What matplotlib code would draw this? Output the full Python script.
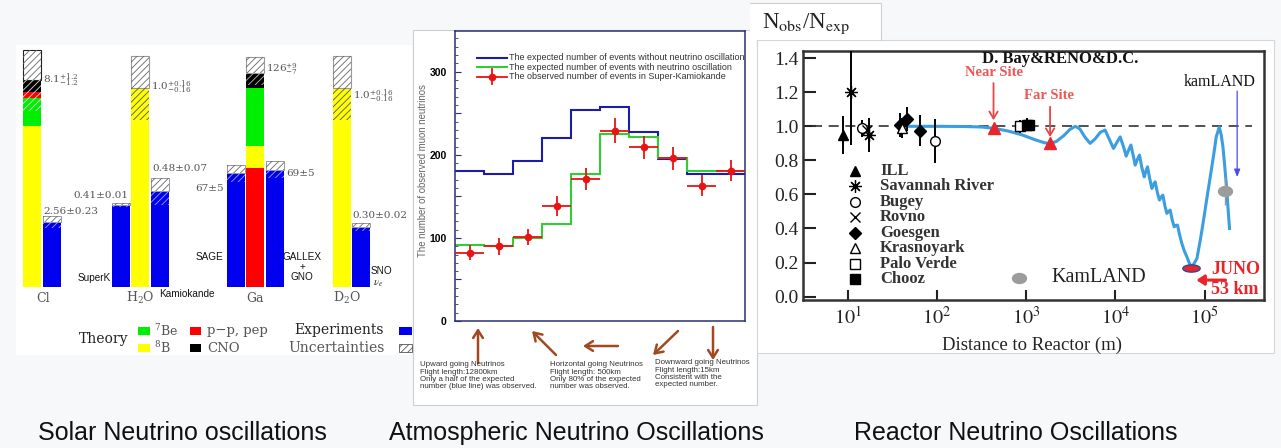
import numpy as np
import matplotlib.pyplot as plt
from matplotlib.patches import Rectangle
from matplotlib.path import Path
import matplotlib.ticker as mticker

plt.rcParams['mathtext.fontset'] = 'stix'
plt.rcParams['hatch.linewidth'] = 0.6

W, H = 1281, 448

# ---------------- solar neutrinos (left) ----------------
solar_targets = ['Cl', 'H$_2$O', 'Ga', 'D$_2$O']
flux_8B = [6.3, 1.0, 13.0, 1.0]
flux_7Be = [1.1, 0.0, 34.0, 0.0]
flux_pp = [0.25, 0.0, 70.0, 0.0]
flux_cno = [0.45, 0.0, 9.0, 0.0]
theory_total = [8.1, 1.0, 126.0, 1.0]
theory_err_up = [1.2, 0.16, 9.0, 0.16]
theory_err_dn = [1.2, 0.16, 7.0, 0.16]
theory_labels = [r'$8.1^{+1.2}_{-1.2}$', r'$1.0^{+0.16}_{-0.16}$',
                 r'$126^{+9}_{-7}$', r'$1.0^{+0.16}_{-0.16}$']

exp_names = ['', 'SuperK', 'Kamiokande', 'SAGE', 'GALLEX\n+\nGNO', 'SNO']
exp_target = [0, 1, 1, 2, 2, 3]
exp_value = [2.56, 0.41, 0.48, 67.0, 69.0, 0.30]
exp_err = [0.23, 0.01, 0.07, 5.0, 5.0, 0.02]
exp_labels = ['2.56±0.23', '0.41±0.01', '0.48±0.07', '67±5', '69±5', '0.30±0.02']

# ---------------- atmospheric neutrinos (middle) ----------------
zenith_edges = [-1.0, -0.8, -0.6, -0.4, -0.2, 0.0, 0.2, 0.4, 0.6, 0.8, 1.0]
expected_no_osc = [181, 177, 193, 220, 254, 257, 228, 195, 177, 177]
expected_osc = [92, 90, 100, 117, 177, 225, 221, 196, 181, 181]
observed = [82, 90, 101, 138, 171, 229, 209, 196, 163, 181]
observed_err = [9, 10, 10, 12, 13, 15, 14, 14, 13, 13]

# ---------------- reactor neutrinos (right) ----------------
curve_log10_m = [1.69, 2.00, 2.30, 2.50, 2.64, 2.80, 2.95, 3.10, 3.20, 3.27,
                 3.34, 3.42, 3.49, 3.55, 3.60, 3.66, 3.716, 3.77, 3.83, 3.884,
                 3.93, 3.978, 4.015, 4.053, 4.09, 4.12, 4.147, 4.173, 4.20, 4.221,
                 4.245, 4.269, 4.295, 4.322, 4.34, 4.359, 4.385, 4.408, 4.427, 4.445,
                 4.47, 4.493, 4.512, 4.531, 4.555, 4.576, 4.595, 4.613, 4.636, 4.658,
                 4.677, 4.695, 4.72, 4.744, 4.77, 4.80, 4.825, 4.845, 4.87, 4.913,
                 4.95, 4.987, 5.025, 5.062, 5.10, 5.129, 5.163, 5.185, 5.204, 5.222,
                 5.241, 5.26, 5.278]
curve_ratio = [1.000, 1.000, 0.999, 0.996, 0.988, 0.972, 0.950, 0.921, 0.904, 0.898,
               0.912, 0.945, 0.982, 1.000, 0.985, 0.935, 0.900, 0.925, 0.965, 0.978,
               0.925, 0.870, 0.905, 0.938, 0.880, 0.825, 0.860, 0.890, 0.825, 0.772,
               0.805, 0.831, 0.760, 0.703, 0.735, 0.762, 0.690, 0.635, 0.658, 0.674,
               0.610, 0.567, 0.585, 0.596, 0.530, 0.489, 0.500, 0.508, 0.450, 0.410,
               0.418, 0.420, 0.360, 0.312, 0.270, 0.234, 0.200, 0.180, 0.185, 0.224,
               0.330, 0.449, 0.580, 0.703, 0.830, 0.938, 0.995, 0.950, 0.880, 0.780,
               0.665, 0.530, 0.400]

reactor_names = ['ILL', 'Savannah River', 'Bugey', 'Rovno', 'Goesgen',
                 'Krasnoyark', 'Palo Verde', 'Chooz']
reactor_dist = [[8.9], [11.0, 17.5], [14.5, 95.0], [16.5], [38.0, 46.0, 65.0],
                [41.0], [860.0], [1020.0, 1080.0]]
reactor_ratio = [[0.95], [1.20, 0.95], [0.99, 0.915], [0.98], [1.01, 1.045, 0.975],
                 [0.99], [1.00], [1.01, 1.01]]
reactor_err = [[0.11], [0.31, 0.10], [0.05, 0.13], [0.0], [0.07, 0.07, 0.09],
               [0.06], [0.04], [0.04, 0.0]]
dyb_dist = [430.0, 1850.0]
dyb_ratio = [0.99, 0.90]
juno_dist = [70000.0]
juno_ratio = [0.17]
kamland_dist = [170000.0]
kamland_ratio = [0.62]
kamland_err = [0.08]


def fig_box(x0, y0, x1, y1):
    return [x0 / W, 1 - y1 / H, (x1 - x0) / W, (y1 - y0) / H]


fig = plt.figure(figsize=(W / 100, H / 100), dpi=100, facecolor='#f7f8fa')

# background / frame layer in pixel coordinates
bg = fig.add_axes([0, 0, 1, 1])
bg.set_xlim(0, W)
bg.set_ylim(H, 0)
bg.axis('off')
bg.add_patch(Rectangle((16, 45), 396, 310, fc='white', ec='none'))
bg.add_patch(Rectangle((413, 30), 344, 375, fc='white', ec='#cfcfcf', lw=0.8))
bg.add_patch(Rectangle((757, 40), 517, 313, fc='white', ec='#d6d6d6', lw=0.8))
bg.add_patch(Rectangle((750, 3), 131, 37, fc='white', ec='none'))
bg.plot([750, 881, 881], [3, 3, 40], color='#d0d0d0', lw=0.8)

captions = ['Solar Neutrino oscillations', 'Atmospheric Neutrino Oscillations',
            'Reactor Neutrino Oscillations']
for cx, txt in zip([38, 389, 854], captions):
    bg.text(cx, 433, txt, fontsize=18, va='center', ha='left', color='#111',
            family=['Liberation Sans', 'DejaVu Sans'])

# ================= left panel =================
px_per_unit = [25.5, 199.0, 1.70, 199.0]
bar_w = 18
theory_x = [23, 131, 246, 333]
exp_x = [43, 112, 151, 227, 266, 352]
stack_order = [['8B', '7Be', 'pp', 'CNO'], ['8B'], ['pp', '8B', '7Be', 'CNO'], ['8B']]
comp_flux = {'8B': flux_8B, '7Be': flux_7Be, 'pp': flux_pp, 'CNO': flux_cno}
comp_color = {'8B': '#ffff00', '7Be': '#00ee00', 'pp': '#ff0000', 'CNO': '#000000'}
top_edge = ['#222222', '#999999', '#999999', '#999999']
low_hatch = ['#dddddd', '#555555', '#bbbbbb', '#555555']
theory_dy = [0, 1, 3, -8]
exp_label_x = [43, 128, 152, 224, 286, 352]
exp_label_ha = ['left', 'right', 'left', 'right', 'left', 'left']
exp_label_dy = [4, 8, 9, -24, -12, 8]
exp_name_pos = [(0, 0, 'left'), (111, 9, 'right'), (159, -7, 'left'),
                (223, 30, 'right'), (302, 20, 'center'), (371, 16, 'left')]
target_x = [43, 140, 255, 347]

serif_grey = dict(family='DejaVu Serif', color='#555555', math_fontfamily='dejavuserif')

axL = fig.add_axes(fig_box(16, 45, 412, 355))
axL.set_xlim(16, 412)
axL.set_ylim(-68, 242)
axL.axis('off')

for g in range(4):
    s = px_per_unit[g]
    x = theory_x[g]
    base = 0.0
    for comp in stack_order[g]:
        h = comp_flux[comp][g] * s
        axL.bar(x, h, bottom=base, width=bar_w, align='edge', color=comp_color[comp], lw=0)
        base += h
    tot = theory_total[g] * s
    up = theory_err_up[g] * s
    dn = theory_err_dn[g] * s
    axL.bar(x, up, bottom=tot, width=bar_w, align='edge', color='white',
            edgecolor=top_edge[g], lw=0.8)
    axL.bar(x, up, bottom=tot, width=bar_w, align='edge', fill=False,
            hatch='/////', edgecolor='#666666', lw=0)
    axL.bar(x, dn, bottom=tot - dn, width=bar_w, align='edge', fill=False,
            hatch='/////', edgecolor=low_hatch[g], lw=0)
    axL.text(x + bar_w + 2, tot + theory_dy[g], theory_labels[g], fontsize=7.5,
             va='center', ha='left', **serif_grey)
    axL.text(target_x[g], -11, solar_targets[g], fontsize=9, va='center', ha='center',
             **serif_grey)

for i in range(len(exp_value)):
    s = px_per_unit[exp_target[i]]
    v = exp_value[i] * s
    e = exp_err[i] * s
    axL.bar(exp_x[i], v, width=bar_w, align='edge', color='#0000ee', lw=0)
    axL.bar(exp_x[i], e, bottom=v, width=bar_w, align='edge', color='white',
            edgecolor='#999999', lw=0.7)
    axL.bar(exp_x[i], e, bottom=v, width=bar_w, align='edge', fill=False,
            hatch='/////', edgecolor='#666666', lw=0)
    axL.bar(exp_x[i], e, bottom=v - e, width=bar_w, align='edge', fill=False,
            hatch='/////', edgecolor='#a0a0ff', lw=0)
    axL.text(exp_label_x[i], v + e + exp_label_dy[i], exp_labels[i], fontsize=7.5,
             va='center', ha=exp_label_ha[i], clip_on=False, **serif_grey)
    nx, ny, nha = exp_name_pos[i]
    if exp_names[i]:
        axL.text(nx, ny, exp_names[i], fontsize=7.2, va='center', ha=nha,
                 family='Liberation Sans', color='#111', linespacing=0.95)
axL.text(373, 4, r'$\nu_e$', fontsize=8, va='center', ha='left', color='#333')

# legend of the solar panel
axL.text(79, -52, 'Theory', fontsize=10, va='center', ha='left',
         family='DejaVu Serif', color='#222')
axL.add_patch(Rectangle((138, -48), 12, 8, fc='#00ee00', ec='none'))
axL.add_patch(Rectangle((138, -65), 12, 8, fc='#ffff00', ec='none'))
axL.add_patch(Rectangle((190, -48), 11, 8, fc='#ff0000', ec='none'))
axL.add_patch(Rectangle((190, -65), 11, 8, fc='#000000', ec='none'))
axL.add_patch(Rectangle((399, -48), 13, 8, fc='#0000ee', ec='none', clip_on=False))
axL.add_patch(Rectangle((399, -65), 13, 8, fc='white', ec='#555', lw=0.6,
                        hatch='/////', clip_on=False))
axL.text(154, -44, r'$^7$Be', fontsize=9, va='center', ha='left', **serif_grey)
axL.text(154, -61, r'$^8$B', fontsize=9, va='center', ha='left', **serif_grey)
axL.text(207, -43, 'p−p, pep', fontsize=9.5, va='center', ha='left', **serif_grey)
axL.text(207, -61, 'CNO', fontsize=9.5, va='center', ha='left', **serif_grey)
axL.text(294, -43, 'Experiments', fontsize=10, va='center', ha='left',
         family='DejaVu Serif', color='#222')
axL.text(288, -61, 'Uncertainties', fontsize=10, va='center', ha='left', **serif_grey)

# ================= middle panel =================
navy = '#2a2f70'
axM = fig.add_axes(fig_box(455, 31, 745, 321))
axM.stairs(expected_no_osc, zenith_edges, color='#1c1caa', lw=1.5, baseline=None)
axM.stairs(expected_osc, zenith_edges, color='#33cc33', lw=1.5, baseline=None)
edges = np.array(zenith_edges)
centers = (edges[:-1] + edges[1:]) / 2
half_w = (edges[1:] - edges[:-1]) / 2
axM.errorbar(centers, observed, xerr=half_w, yerr=observed_err, fmt='o', color='#e81414',
             ms=4.5, elinewidth=1.3, capsize=0, zorder=5)
axM.set_xlim(-1, 1)
axM.set_ylim(0, 349)
axM.set_xticks([])
axM.yaxis.set_major_locator(mticker.MultipleLocator(50))
axM.yaxis.set_minor_locator(mticker.MultipleLocator(10))
axM.yaxis.set_major_formatter(mticker.FuncFormatter(
    lambda v, p: '%d' % v if v % 100 == 0 else ''))
axM.tick_params(axis='y', which='major', direction='in', length=4, width=0.8,
                color=navy, labelsize=7.5, pad=6)
axM.tick_params(axis='y', which='minor', direction='in', length=2, width=0.6, color=navy)
for lbl in axM.get_yticklabels():
    lbl.set_fontweight('bold')
    lbl.set_family('Liberation Sans')
for sp in axM.spines.values():
    sp.set_color(navy)
    sp.set_linewidth(1.1)

leg_rows = [0.907, 0.875, 0.842]
leg_text = ['The expected number of events without neutrino oscillation',
            'The expected number of events with neutrino oscillation',
            'The observed number of events in Super-Kamiokande']
axM.plot([0.076, 0.179], [leg_rows[0]] * 2, color='#1c1caa', lw=1.5, transform=axM.transAxes)
axM.plot([0.076, 0.179], [leg_rows[1]] * 2, color='#33cc33', lw=1.5, transform=axM.transAxes)
axM.plot([0.076, 0.179], [leg_rows[2]] * 2, color='#e81414', lw=1.3, transform=axM.transAxes)
axM.plot([0.1275, 0.1275], [leg_rows[2] - 0.026, leg_rows[2] + 0.026], color='#e81414',
         lw=1.3, transform=axM.transAxes)
axM.plot([0.1275], [leg_rows[2]], 'o', color='#e81414', ms=4.5, transform=axM.transAxes)
for yr, t in zip(leg_rows, leg_text):
    axM.text(0.186, yr, t, fontsize=6.5, va='center', ha='left', color='#333',
             family='Liberation Sans', transform=axM.transAxes)

bg.text(423, 171, 'The number of observed muon neutrinos', rotation=90, fontsize=6.9,
        va='center', ha='center', color='#666', family='Liberation Sans')

brown = '#a3491f'
arrows = [((478, 363), (478, 328)), ((556, 355), (532, 331)), ((618, 346), (583, 346)),
          ((678, 331), (653, 355)), ((713, 327), (713, 360))]
for tail, head in arrows:
    bg.annotate('', xy=head, xytext=tail,
                arrowprops=dict(arrowstyle='->,head_length=0.55,head_width=0.35',
                                color=brown, lw=1.8, shrinkA=0, shrinkB=0))

notes = [(420, 361, 'Upward going Neutrinos\nFlight length:12800km\n'
                    'Only a half of the expected\nnumber (blue line) was observed.'),
         (550, 361, 'Horizontal going Neutrinos\nFlight length: 500km\n'
                    'Only 80% of the expected\nnumber was observed.'),
         (655, 359, 'Downward going Neutrinos\nFlight length:15km\n'
                    'Consistent with the\nexpected number.')]
for nx, ny, t in notes:
    bg.text(nx, ny, t, fontsize=5.7, va='top', ha='left', color='#333',
            family='Liberation Sans', linespacing=1.1)

# ================= right panel =================
serif = 'Liberation Serif'
axR = fig.add_axes(fig_box(802.7, 51.4, 1263.6, 300))
axR.set_xscale('log')
axR.set_xlim(10 ** 0.495, 10 ** 5.66)
axR.set_ylim(-0.02, 1.44)
axR.axhline(1.0, xmin=0.02, xmax=0.975, color='#333', lw=1.2, dashes=(6, 4))
axR.plot(10 ** np.array(curve_log10_m), curve_ratio, color='#3a9ee0', lw=2.2, zorder=3)

markers = [dict(marker='^', mfc='k', ms=7), dict(marker=(8, 2, 0), mfc='k', ms=9, mew=0.9),
           dict(marker='o', mfc='white', ms=7, mew=1.0), dict(marker='x', mfc='k', ms=7, mew=1.0),
           dict(marker='D', mfc='k', ms=6), dict(marker='^', mfc='white', ms=7, mew=1.0),
           dict(marker='s', mfc='white', ms=7, mew=1.0), dict(marker='s', mfc='k', ms=7)]
for k in range(len(reactor_names)):
    axR.errorbar(reactor_dist[k], reactor_ratio[k], yerr=reactor_err[k], fmt='none',
                 ecolor='k', elinewidth=1.4, capsize=0, zorder=4)
    axR.plot(reactor_dist[k], reactor_ratio[k], ls='none', color='k', mec='k',
             zorder=5, **markers[k])
    ly = 0.52 - k * 0.0623
    axR.plot([0.113], [ly], ls='none', color='k', mec='k', transform=axR.transAxes,
             **markers[k])
    axR.text(0.168, ly, reactor_names[k], fontsize=12, fontweight='bold', color='#333',
             family=serif, va='center', ha='left', transform=axR.transAxes)

axR.plot(dyb_dist, dyb_ratio, '^', color='#e8262a', ms=8, zorder=6)

t = np.linspace(0, 2 * np.pi, 41)
juno_shape = Path(np.column_stack([2.4 * np.cos(t), np.sin(t)]), closed=True)
kam_shape = Path(np.column_stack([1.4 * np.cos(t), np.sin(t)]), closed=True)
axR.plot(juno_dist, juno_ratio, ls='none', marker=juno_shape, ms=12.5, mfc='#e8262a',
         mec='#2c4a9a', mew=1.0, zorder=6)
axR.errorbar(kamland_dist, kamland_ratio, yerr=kamland_err, fmt='none', ecolor='#999',
             elinewidth=1.0, capsize=0, zorder=5)
axR.plot(kamland_dist, kamland_ratio, ls='none', marker=kam_shape, ms=10, mfc='#9c9c9c',
         mec='#9c9c9c', zorder=6)
axR.plot([0.469], [0.0885], ls='none', marker=kam_shape, ms=10, mfc='#9c9c9c', mec='#9c9c9c',
         transform=axR.transAxes)
axR.text(0.539, 0.09, 'KamLAND', fontsize=14.5, color='#222', family=serif,
         va='center', ha='left', transform=axR.transAxes)

axR.text(2400, 1.393, 'D. Bay&RENO&D.C.', fontsize=12, fontweight='bold', color='#111',
         family=serif, ha='center', va='center')
axR.text(433, 1.318, 'Near Site', fontsize=10.5, fontweight='bold', color='#ee5555',
         family=serif, ha='center', va='center')
axR.text(1807, 1.179, 'Far Site', fontsize=10.5, fontweight='bold', color='#ee5555',
         family=serif, ha='center', va='center')
axR.annotate('', xy=(430, 1.036), xytext=(430, 1.254),
             arrowprops=dict(arrowstyle='->,head_length=0.5,head_width=0.3',
                             color='#ee4444', lw=1.3, shrinkA=0, shrinkB=0))
axR.annotate('', xy=(1850, 0.937), xytext=(1850, 1.115),
             arrowprops=dict(arrowstyle='->,head_length=0.5,head_width=0.3',
                             color='#ee4444', lw=1.3, shrinkA=0, shrinkB=0))
axR.text(1.46e5, 1.26, 'kamLAND', fontsize=11.5, color='#111', family=serif,
         ha='center', va='center')
axR.annotate('', xy=(2.31e5, 0.702), xytext=(2.31e5, 1.207),
             arrowprops=dict(arrowstyle='-|>,head_length=0.45,head_width=0.18',
                             color='#4a4af0', lw=0.9, shrinkA=0, shrinkB=0))
axR.text(2.2e5, 0.158, 'JUNO', fontsize=13, fontweight='bold', color='#e8262a',
         family=serif, ha='center', va='center')
axR.text(2.15e5, 0.042, '53 km', fontsize=13, fontweight='bold', color='#e8262a',
         family=serif, ha='center', va='center')
axR.annotate('', xy=(8.07e4, 0.097), xytext=(1.71e5, 0.097),
             arrowprops=dict(arrowstyle='-|>,head_length=0.45,head_width=0.3',
                             color='#e8262a', lw=2.2, shrinkA=0, shrinkB=0))

axR.set_xticks([1e1, 1e2, 1e3, 1e4, 1e5])
axR.set_xticklabels([r'$10^1$', r'$10^2$', r'$10^3$', r'$10^4$', r'$10^5$'])
axR.xaxis.set_minor_locator(mticker.NullLocator())
axR.set_yticks([0.0, 0.2, 0.4, 0.6, 0.8, 1.0, 1.2, 1.4])
axR.set_yticklabels(['0.0', '0.2', '0.4', '0.6', '0.8', '1.0', '1.2', '1.4'])
axR.tick_params(axis='x', direction='in', length=7, width=1.5, labelsize=14.5, pad=5,
                colors='#222')
axR.tick_params(axis='y', direction='in', length=9, width=1.5, labelsize=14, pad=3,
                colors='#222')
for lbl in axR.get_xticklabels() + axR.get_yticklabels():
    lbl.set_family(serif)
for sp in axR.spines.values():
    sp.set_color('#333')
    sp.set_linewidth(1.8)

bg.text(1032, 345, 'Distance to Reactor (m)', fontsize=13.5, color='#222', family=serif,
        ha='center', va='center')
bg.text(762, 24, r'N$_{\rm obs}$/N$_{\rm exp}$', fontsize=16.5, color='#222', family=serif,
        ha='left', va='center')

fig.savefig('out.png', dpi=100, facecolor=fig.get_facecolor())
